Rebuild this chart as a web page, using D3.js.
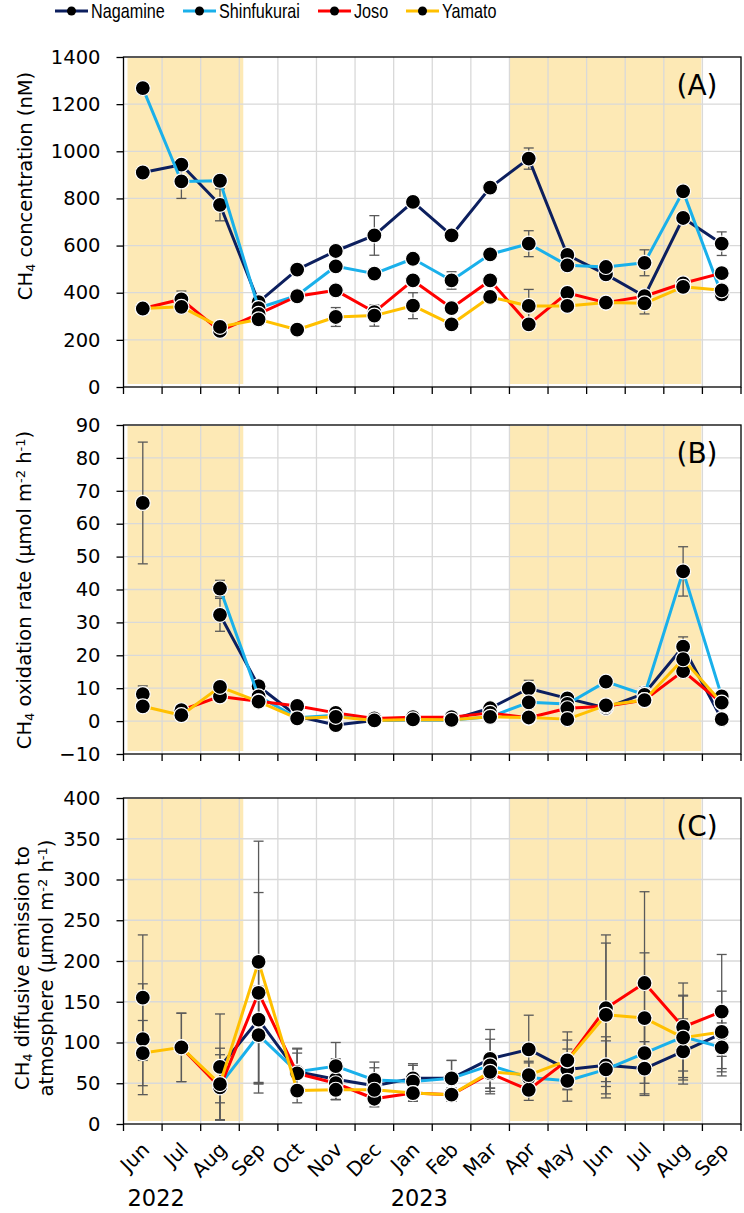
<!DOCTYPE html>
<html>
<head>
<meta charset="utf-8">
<script src="https://cdn.jsdelivr.net/npm/d3@7"></script>
<style>
  body { margin: 0; background: #fff; }
  svg { display: block; }
</style>
</head>
<body>
<div id="chart"></div>
<script>
// months on the x axis (Jun 2022 .. Sep 2023)
let monthKeys = ['2022-06','2022-07','2022-08','2022-09','2022-10','2022-11','2022-12','2023-01',
                 '2023-02','2023-03','2023-04','2023-05','2023-06','2023-07','2023-08','2023-09'];
let monthLabels = ['Jun','Jul','Aug','Sep','Oct','Nov','Dec','Jan','Feb','Mar','Apr','May','Jun','Jul','Aug','Sep'];
let yearLabels = [['2022','2022-06'], ['2023','2023-01']];
// shaded (warm season) periods: [first month, first month after]
let shadePeriods = [['2022-06','2022-09'], ['2023-04','2023-09']];

let seriesNames = ['Nagamine','Shinfukurai','Joso','Yamato'];
let seriesColors = ['#0c1f5e','#1ab0ea','#ff0000','#ffc000'];

// (A) CH4 concentration (nM)
let nagamineA    = [910, 943, 773, 360, 498, 577, 643, 785, 643, 846, 969, 560, 478, 385, 717, 608];
let shinfukuraiA = [1268, 872, 875, 335, 388, 512, 481, 544, 452, 563, 608, 516, 509, 527, 830, 393];
let josoA        = [333, 372, 238, 310, 385, 410, 318, 452, 335, 452, 266, 399, 358, 385, 440, 483];
let yamatoA      = [333, 340, 255, 287, 243, 297, 303, 345, 266, 382, 344, 344, 358, 355, 425, 410];
let nagamineAErr    = [null, null, 68, null, null, null, 84, null, null, null, 45, null, null, null, null, 50];
let shinfukuraiAErr = [null, 72, null, null, null, null, null, null, 37, null, 55, null, null, 55, null, null];
let josoAErr        = [null, 35, null, null, null, null, null, null, null, null, null, null, null, null, null, null];
let yamatoAErr      = [null, null, null, null, null, 40, 45, 55, null, null, 70, null, null, 45, null, null];

// (B) CH4 oxidation rate
let nagamineB    = [8.2, null, 32.3, 10.6, 1.5, -1.2, 0.2, 0.5, 0.4, 3.9, 9.9, 6.9, 4.0, 8.4, 22.6, 0.6];
let shinfukuraiB = [66.3, null, 40.3, 7.5, 1.0, 1.8, 0.2, 0.4, 0.3, 1.3, 5.7, 5.2, 12.0, 8.0, 45.5, 7.5];
let josoB        = [null, 3.3, 7.5, 6.0, 4.6, 2.5, 0.8, 1.2, 1.2, 2.5, 1.0, 3.9, 4.5, 6.4, 15.2, 5.5];
let yamatoB      = [4.5, 1.8, 10.4, 5.9, 0.8, 1.3, 0.2, 0.5, 0.4, 1.3, 1.1, 0.6, 4.8, 6.4, 18.8, 5.6];
let nagamineBErr    = [2.5, null, 5, null, null, null, null, null, null, null, 2.5, null, null, 2, 3, null];
let shinfukuraiBErr = [18.5, null, 2.5, null, null, null, null, null, null, null, null, null, null, null, 7.5, null];
let josoBErr        = [null, null, null, null, null, null, null, null, null, null, null, null, null, null, null, null];
let yamatoBErr      = [null, null, null, null, null, null, null, null, null, null, null, null, null, null, null, null];

// (C) CH4 diffusive emission to atmosphere
let nagamineC    = [104, null, 70, 128, 64, 55, 47, 56, 56, 80, 91.5, 67, 72, 68, 89, 111];
let shinfukuraiC = [155, null, 48, 109, 64, 71, 54, 52, 56, 72, 57, 53, 67, 87, 107, 94];
let josoC        = [null, 94, 45, 161, 62, 50, 31, 38, 36, 62, 42, 78, 142, 173, 119, 138];
let yamatoC      = [87, 94, 49, 199, 41, 42, 42, 38, 36, 64, 60, 78, 134, 130, 106, 113];
let nagamineCErr    = [68, null, 65, 78, 28, 25, 22, 18, 22, 36, 42, 25, 35, 33, 40, 52];
let shinfukuraiCErr = [77, null, 22, 60, 29, 29, 22, 20, 22, 32, 20, 25, 35, 50, 50, 30];
let josoCErr        = [null, 42, 40, 123, 25, 20, 10, 10, 8, 25, 13, 25, 90, 112, 54, 70];
let yamatoCErr      = [40, 42, 44, 148, 15, 12, 12, 10, 8, 20, 15, 35, 88, 80, 52, 30];

let ticksA = [0, 200, 400, 600, 800, 1000, 1200, 1400];
let ticksB = [-10, 0, 10, 20, 30, 40, 50, 60, 70, 80, 90];
let ticksC = [0, 50, 100, 150, 200, 250, 300, 350, 400];

let width = 744, height = 1213;
let left = 123.5, right = 741;
let font = '"DejaVu Sans", Verdana, sans-serif';

let panels = [
  { label: '(A)', top: 57, bottom: 387, ticks: ticksA,
    values: [nagamineA, shinfukuraiA, josoA, yamatoA],
    errs: [nagamineAErr, shinfukuraiAErr, josoAErr, yamatoAErr],
    title: [[['CH',0],['4',1],[' concentration (nM)',0]]], titleX: [25], titleY: 186 },
  { label: '(B)', top: 425, bottom: 754, ticks: ticksB,
    values: [nagamineB, shinfukuraiB, josoB, yamatoB],
    errs: [nagamineBErr, shinfukuraiBErr, josoBErr, yamatoBErr],
    title: [[['CH',0],['4',1],[' oxidation rate (µmol m',0],['-2',2],[' h',0],['-1',2],[')',0]]], titleX: [24], titleY: 590 },
  { label: '(C)', top: 798, bottom: 1124, ticks: ticksC,
    values: [nagamineC, shinfukuraiC, josoC, yamatoC],
    errs: [nagamineCErr, shinfukuraiCErr, josoCErr, yamatoCErr],
    title: [[['CH',0],['4',1],[' diffusive emission to',0]],
            [['atmosphere (µmol m',0],['-2',2],[' h',0],['-1',2],[')',0]]], titleX: [22, 46], titleY: 968 }
];

let xScale = d3.scaleBand().domain(monthKeys).range([left, right]).padding(0);
let bw = xScale.bandwidth();
let cx = k => xScale(k) + bw / 2;

let svg = d3.select('#chart').append('svg')
  .attr('width', width)
  .attr('height', height)
  .style('font-family', font);

panels.forEach((p, pi) => {
  let yScale = d3.scaleLinear()
    .domain([p.ticks[0], p.ticks[p.ticks.length - 1]])
    .range([p.bottom, p.top]);
  let g = svg.append('g');

  // shaded periods
  shadePeriods.forEach(s => {
    let first = s[0] === monthKeys[0];
    let xs = xScale(s[0]) + (first ? 4 : 0);
    let xe = xScale(s[1]) + (first ? 4 : -1);
    g.append('rect')
      .attr('x', xs).attr('y', p.top + 1)
      .attr('width', xe - xs).attr('height', p.bottom - p.top - 4)
      .attr('fill', '#fde9b5');
  });

  // gridlines
  g.selectAll('.hgrid').data(p.ticks.slice(1, -1)).enter().append('line')
    .attr('x1', left).attr('x2', right)
    .attr('y1', d => yScale(d)).attr('y2', d => yScale(d))
    .attr('stroke', '#d9d9d9').attr('stroke-width', 1.3);
  g.selectAll('.vgrid').data(monthKeys.slice(1)).enter().append('line')
    .attr('x1', d => xScale(d)).attr('x2', d => xScale(d))
    .attr('y1', p.top).attr('y2', p.bottom)
    .attr('stroke', '#d9d9d9').attr('stroke-width', 1.3);

  // frame
  g.append('rect')
    .attr('x', left).attr('y', p.top)
    .attr('width', right - left).attr('height', p.bottom - p.top)
    .attr('fill', 'none').attr('stroke', '#000').attr('stroke-width', 1.3);

  // y axis
  let yAxis = d3.axisLeft(yScale).tickValues(p.ticks).tickSize(7).tickPadding(16).tickFormat(d3.format('d'));
  let ya = g.append('g').attr('transform', `translate(${left},0)`).call(yAxis);
  ya.select('.domain').remove();
  ya.selectAll('line').attr('stroke', '#000').attr('stroke-width', 1.3);
  ya.selectAll('text').attr('font-size', 19.5).attr('font-family', font).attr('fill', '#000');

  // x ticks at month boundaries
  let bounds = monthKeys.map(k => xScale(k)).concat([right]);
  g.selectAll('.xt').data(bounds).enter().append('line')
    .attr('x1', d => d).attr('x2', d => d)
    .attr('y1', p.bottom).attr('y2', p.bottom + 7)
    .attr('stroke', '#000').attr('stroke-width', 1.3);

  // error bars
  p.values.forEach((vals, si) => {
    let errs = p.errs[si];
    vals.forEach((v, i) => {
      if (v == null || errs[i] == null) return;
      let x = cx(monthKeys[i]);
      let y1 = yScale(v + errs[i]), y2 = yScale(v - errs[i]);
      let eg = g.append('g').attr('stroke', '#595959').attr('stroke-width', 1.3);
      eg.append('line').attr('x1', x).attr('x2', x).attr('y1', y1).attr('y2', y2);
      eg.append('line').attr('x1', x - 5).attr('x2', x + 5).attr('y1', y1).attr('y2', y1);
      eg.append('line').attr('x1', x - 5).attr('x2', x + 5).attr('y1', y2).attr('y2', y2);
    });
  });

  // lines + markers
  let line = d3.line()
    .defined(d => d.v != null)
    .x(d => cx(d.k))
    .y(d => yScale(d.v));
  p.values.forEach((vals, si) => {
    let pts = vals.map((v, i) => ({ k: monthKeys[i], v: v }));
    g.append('path').datum(pts)
      .attr('d', line)
      .attr('fill', 'none')
      .attr('stroke', seriesColors[si])
      .attr('stroke-width', 3)
      .attr('stroke-linejoin', 'round');
    g.selectAll('.m' + si).data(pts.filter(d => d.v != null)).enter().append('circle')
      .attr('cx', d => cx(d.k))
      .attr('cy', d => yScale(d.v))
      .attr('r', 7.5)
      .attr('fill', '#000')
      .attr('stroke', '#fff')
      .attr('stroke-width', 1.2);
  });

  // panel label
  g.append('text')
    .attr('x', 697).attr('y', p.top + 38)
    .attr('text-anchor', 'middle')
    .attr('font-size', 28)
    .text(p.label);

  // y title
  p.title.forEach((parts, li) => {
    let t = g.append('text')
      .attr('transform', `translate(${p.titleX[li]},${p.titleY}) rotate(-90)`)
      .attr('text-anchor', 'middle')
      .attr('dy', '0.35em')
      .attr('font-size', 19.5);
    parts.forEach(pt => {
      let ts = t.append('tspan').text(pt[0]);
      if (pt[1] === 1) ts.attr('font-size', 13).attr('baseline-shift', '-25%');
      if (pt[1] === 2) ts.attr('font-size', 13).attr('baseline-shift', '45%');
    });
  });

  // x labels on bottom panel
  if (pi === panels.length - 1) {
    monthKeys.forEach((k, i) => {
      g.append('text')
        .attr('transform', `translate(${cx(k) + 3},${p.bottom + 22}) rotate(-45)`)
        .attr('text-anchor', 'end')
        .attr('dy', '0.35em')
        .attr('font-size', 20)
        .text(monthLabels[i]);
    });
    yearLabels.forEach(y => {
      g.append('text')
        .attr('x', xScale(y[1]) + (y[1] === monthKeys[0] ? 4 : -3)).attr('y', 1206)
        .attr('text-anchor', 'start')
        .attr('font-size', 22.5)
        .text(y[0]);
    });
  }
});

// legend
let legendX = [55, 183, 318, 406];
let legend = svg.append('g');
seriesNames.forEach((name, i) => {
  let lg = legend.append('g').attr('transform', `translate(${legendX[i]},11)`);
  lg.append('line').attr('x1', 0).attr('x2', 33).attr('y1', 0).attr('y2', 0)
    .attr('stroke', seriesColors[i]).attr('stroke-width', 3);
  lg.append('circle').attr('cx', 16.5).attr('cy', 0).attr('r', 4.5).attr('fill', '#000');
  lg.append('text')
    .attr('transform', 'translate(36,7) scale(0.83,1)')
    .attr('font-family', '"Liberation Sans", Arial, sans-serif')
    .attr('font-size', 19.5)
    .text(name);
});
</script>
</body>
</html>
